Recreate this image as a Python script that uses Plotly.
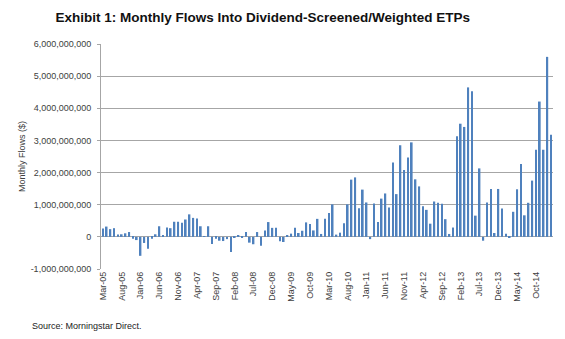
import pandas as pd
import plotly.graph_objects as go

# Monthly flows, Mar-2005 through Feb-2015, in billions of dollars
months = [d.strftime("%b-%y") for d in pd.date_range("2005-03-01", "2015-02-01", freq="MS")]
flows_bn = [
    0.26, 0.32, 0.24, 0.27, 0.07, 0.08, 0.11, 0.15, -0.06, -0.10,
    -0.59, -0.19, -0.37, -0.06, 0.08, 0.33, 0.04, 0.29, 0.27, 0.47,
    0.47, 0.44, 0.54, 0.70, 0.59, 0.57, 0.33, 0.02, 0.33, -0.22,
    -0.06, -0.12, -0.13, -0.07, -0.47, -0.02, 0.05, -0.03, 0.15, -0.18,
    -0.23, 0.15, -0.28, 0.20, 0.46, 0.28, 0.28, -0.14, -0.16, 0.03,
    0.10, 0.28, 0.12, 0.19, 0.45, 0.40, 0.20, 0.56, 0.09, 0.56,
    0.74, 1.01, 0.07, 0.13, 0.42, 1.01, 1.78, 1.85, 0.89, 1.47,
    1.07, -0.07, 1.04, 0.46, 1.19, 1.35, 0.91, 2.31, 1.33, 2.85,
    2.08, 2.47, 2.94, 1.79, 1.57, 0.95, 0.84, 0.41, 1.10, 1.06,
    1.03, 0.55, 0.09, 0.29, 3.13, 3.52, 3.42, 4.65, 4.53, 0.66,
    2.13, -0.12, 1.07, 1.49, 0.12, 1.49, 0.88, 0.10, -0.02, 0.78,
    1.48, 2.27, 0.67, 1.06, 1.75, 2.71, 4.21, 2.71, 5.60, 3.18,
]
flows = [v * 1e9 for v in flows_bn]

y_tick_vals = [-1e9, 0, 1e9, 2e9, 3e9, 4e9, 5e9, 6e9]
y_tick_text = ["-1,000,000,000", "0", "1,000,000,000", "2,000,000,000",
               "3,000,000,000", "4,000,000,000", "5,000,000,000", "6,000,000,000"]
x_tick_labels = months[::5]

FAMILY = "Liberation Sans, Arial, sans-serif"
label_font = dict(family=FAMILY, size=9, color="#404040")

fig = go.Figure(go.Bar(
    x=months, y=flows,
    marker=dict(color="#4F81BD", line=dict(width=0)),
))

fig.update_layout(
    width=565, height=339,
    margin=dict(l=101, r=12, t=44, b=70),
    paper_bgcolor="white", plot_bgcolor="white",
    bargap=0.55,
    showlegend=False,
    title=dict(
        text="<b>Exhibit 1: Monthly Flows Into Dividend-Screened/Weighted ETPs</b>",
        x=0.465, xanchor="center", y=0.95, yanchor="middle",
        font=dict(family=FAMILY, size=13.5, color="#111111"),
    ),
    font=label_font,
)

fig.update_xaxes(
    type="category",
    range=[-0.5, len(months) - 0.5],
    tickmode="array", tickvals=x_tick_labels, ticktext=x_tick_labels,
    tickangle=-90, tickfont=label_font,
    showgrid=False, showline=False, ticks="",
)

fig.update_yaxes(
    range=[-1e9, 6e9],
    tickmode="array", tickvals=y_tick_vals, ticktext=y_tick_text,
    tickfont=label_font,
    showgrid=True, gridcolor="#A6A6A6", gridwidth=1,
    zeroline=True, zerolinecolor="#A6A6A6", zerolinewidth=1,
    showline=True, linecolor="#A6A6A6", linewidth=1,
    ticks="outside", ticklen=3, tickcolor="#A6A6A6",
    ticklabelstandoff=4,
    title=dict(text="Monthly Flows ($)", font=label_font, standoff=3),
)

fig.add_annotation(
    text="Source: Morningstar Direct.",
    xref="paper", yref="paper", x=-0.157, y=-0.253,
    xanchor="left", yanchor="middle", showarrow=False,
    font=dict(family=FAMILY, size=9, color="#222222"),
)

fig.write_html("out.html")
